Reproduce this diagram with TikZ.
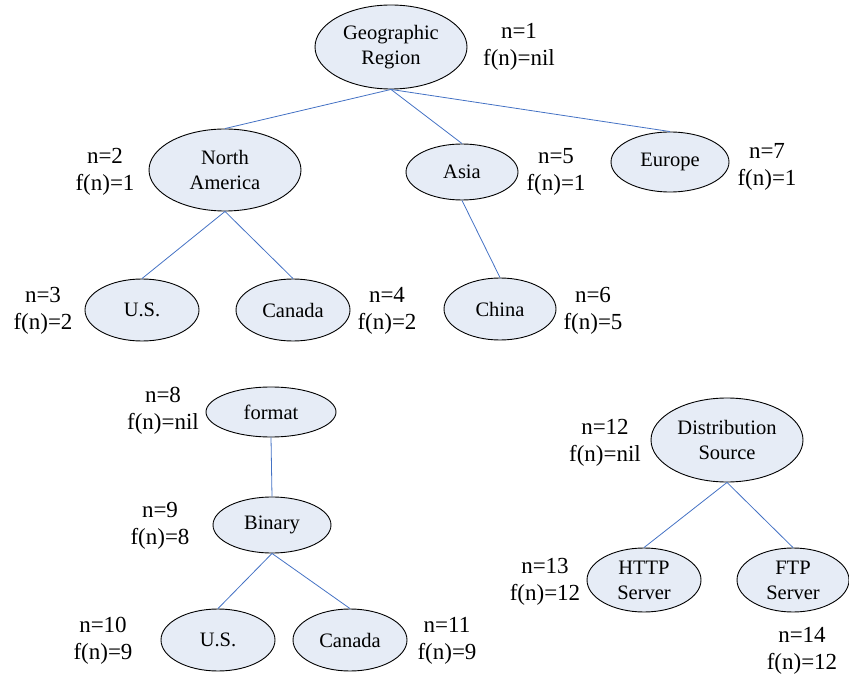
\documentclass[tikz,border=0pt]{standalone}
\usepackage{fontspec}
\setmainfont{Liberation Serif}
\usetikzlibrary{shapes.geometric}
\definecolor{nodefill}{HTML}{E6ECF6}
\definecolor{linkblue}{HTML}{4472C4}
\begin{document}
\begin{tikzpicture}[x=1pt,y=-1pt,
  cat/.style={ellipse,draw=black,line width=0.9pt,fill=nodefill,inner sep=0pt,align=center,
    font=\fontsize{20.5}{25}\selectfont},
  tag/.style={align=center,inner sep=0pt,font=\fontsize{23}{27}\selectfont},
  link/.style={draw=linkblue,line width=0.8pt}]
\useasboundingbox (0,0) rectangle (849,687);

% Geographic region hierarchy
\node[cat,minimum width=152pt,minimum height=84pt] (geo) at (391,47) {Geographic\\Region};
\node[tag] (geoL) at (519,47) {n=1\\f(n)=nil};
\node[cat,minimum width=152pt,minimum height=82pt] (na) at (225,170) {North\\America};
\node[tag] (naL) at (105,172) {n=2\\f(n)=1};
\node[cat,minimum width=112pt,minimum height=56pt] (asia) at (462,172) {Asia};
\node[tag] (asiaL) at (556,172) {n=5\\f(n)=1};
\node[cat,minimum width=118pt,minimum height=60pt] (eu) at (670,162) {Europe};
\node[tag] (euL) at (767,167) {n=7\\f(n)=1};
\node[cat,minimum width=114pt,minimum height=62pt] (us) at (142,310) {U.S.};
\node[tag] (usL) at (43,311) {n=3\\f(n)=2};
\node[cat,minimum width=114pt,minimum height=62pt] (ca) at (293,310) {Canada};
\node[tag] (caL) at (387,311) {n=4\\f(n)=2};
\node[cat,minimum width=112pt,minimum height=62pt] (cn) at (500,309) {China};
\node[tag] (cnL) at (593,311) {n=6\\f(n)=5};

\draw[link] (geo.south) -- (na.north);
\draw[link] (geo.south) -- (asia.north);
\draw[link] (geo.south) -- (eu.north);
\draw[link] (na.south) -- (us.north);
\draw[link] (na.south) -- (ca.north);
\draw[link] (asia.south) -- (cn.north);

% Format hierarchy
\node[cat,minimum width=130pt,minimum height=50pt] (fmt) at (271,412) {format};
\node[tag] (fmtL) at (163,411) {n=8\\f(n)=nil};
\node[cat,minimum width=118pt,minimum height=56pt] (bin) at (272,525) {Binary};
\node[tag] (binL) at (160,526) {n=9\\f(n)=8};
\node[cat,minimum width=114pt,minimum height=62pt] (us2) at (218,640) {U.S.};
\node[tag] (us2L) at (103,641) {n=10\\f(n)=9};
\node[cat,minimum width=114pt,minimum height=62pt] (ca2) at (350,640) {Canada};
\node[tag] (ca2L) at (447,641) {n=11\\f(n)=9};

\draw[link] (fmt.south) -- (bin.north);
\draw[link] (bin.south) -- (us2.north);
\draw[link] (bin.south) -- (ca2.north);

% Distribution source hierarchy
\node[cat,minimum width=152pt,minimum height=84pt] (ds) at (727,440) {Distribution\\Source};
\node[tag] (dsL) at (605,443) {n=12\\f(n)=nil};
\node[cat,minimum width=114pt,minimum height=64pt] (http) at (644,580) {HTTP\\Server};
\node[tag] (httpL) at (545,582) {n=13\\f(n)=12};
\node[cat,minimum width=112pt,minimum height=64pt] (ftp) at (793,580) {FTP\\Server};
\node[tag] (ftpL) at (802,651) {n=14\\f(n)=12};

\draw[link] (ds.south) -- (http.north);
\draw[link] (ds.south) -- (ftp.north);
\end{tikzpicture}
\end{document}
